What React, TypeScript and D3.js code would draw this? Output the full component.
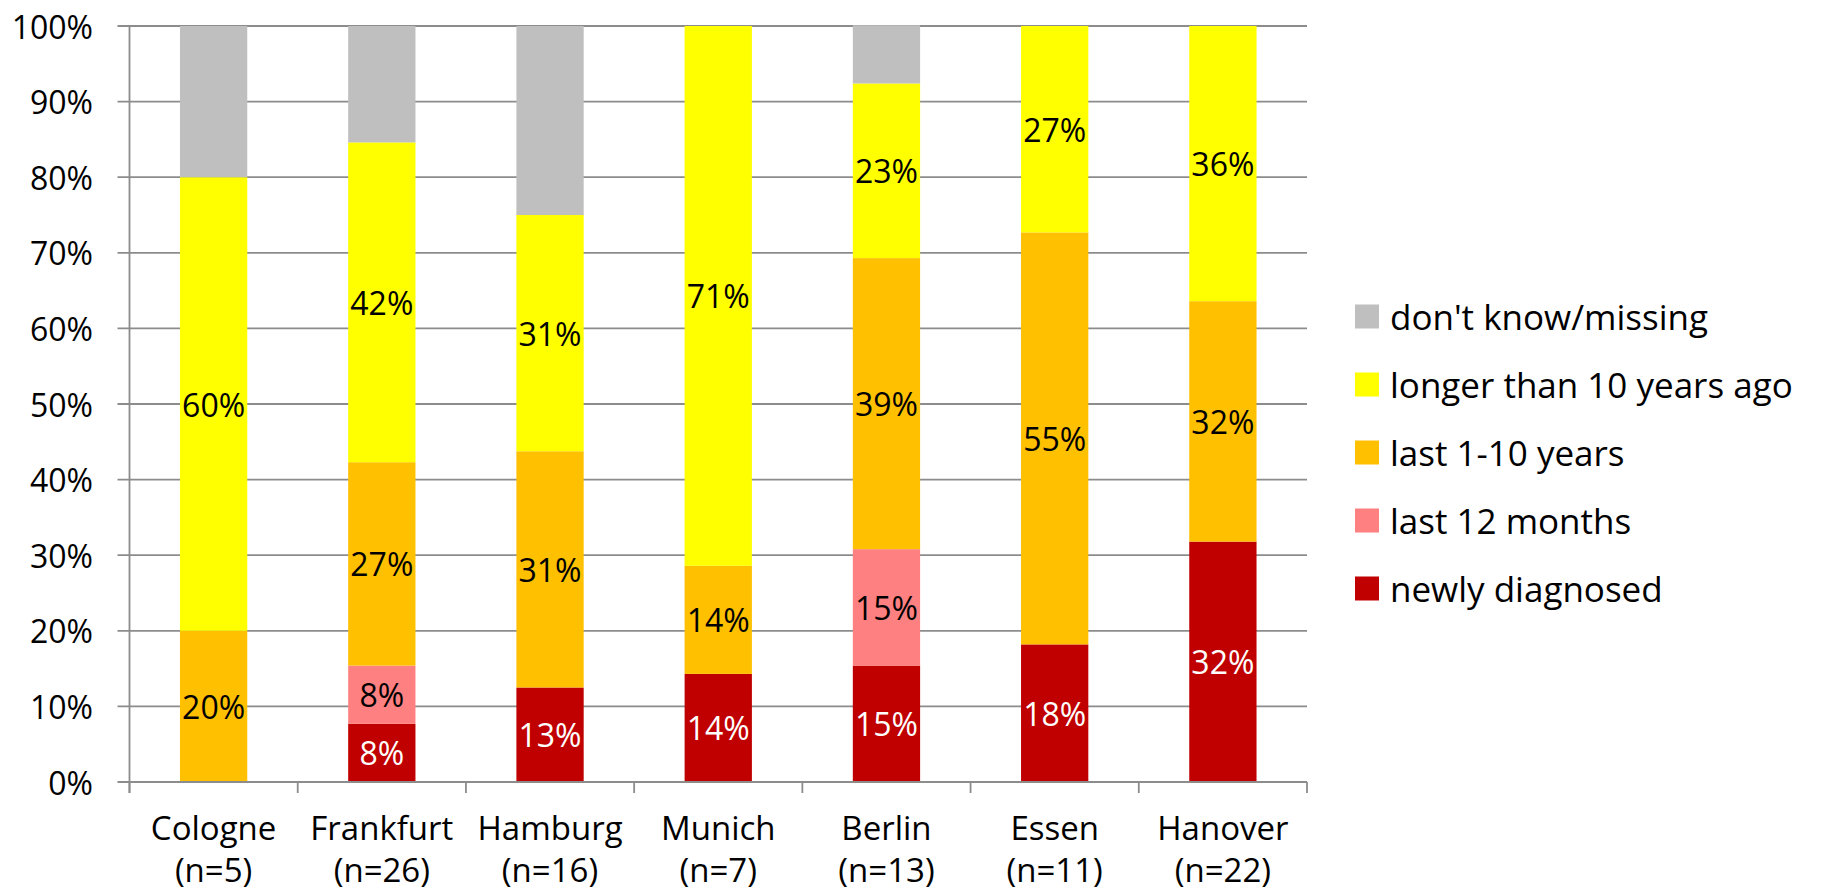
import React from "react";
import * as d3 from "d3";

// Cities (with sample size) along the x axis
const cities = ["Cologne", "Frankfurt", "Hamburg", "Munich", "Berlin", "Essen", "Hanover"];
const sampleSizes = [5, 26, 16, 7, 13, 11, 22];

// Time since diagnosis, percent of respondents per city (stacked bottom to top)
const newlyDiagnosed = [0, 7.7, 12.5, 14.3, 15.4, 18.2, 31.8];
const last12Months = [0, 7.7, 0, 0, 15.4, 0, 0];
const last1to10Years = [20, 26.9, 31.25, 14.3, 38.5, 54.5, 31.8];
const longerThan10 = [60, 42.3, 31.25, 71.4, 23.1, 27.3, 36.4];
const dontKnow = [20, 15.4, 25, 0, 7.7, 0, 0];

const yTicks = [0, 10, 20, 30, 40, 50, 60, 70, 80, 90, 100];

const seriesNames = [
  "newly diagnosed",
  "last 12 months",
  "last 1-10 years",
  "longer than 10 years ago",
  "don't know/missing",
];
const seriesValues = [newlyDiagnosed, last12Months, last1to10Years, longerThan10, dontKnow];
const seriesColors = ["#C00000", "#FF8080", "#FFC000", "#FFFF00", "#BFBFBF"];
const labelColors = ["#FFFFFF", "#000000", "#000000", "#000000", null];

const W = 1821;
const H = 893;
const plot = { left: 129.5, right: 1307, top: 26, bottom: 782 };
const FONT = "'Open Sans', 'Noto Sans', sans-serif";

export default function App() {
  const x = d3
    .scaleBand<string>()
    .domain(cities)
    .range([plot.left, plot.right])
    .paddingInner(0.6)
    .paddingOuter(0.3);
  const y = d3.scaleLinear().domain([0, 100]).range([plot.bottom, plot.top]);
  const step = x.step();

  const rows = cities.map((c, i) => {
    const r: Record<string, number | string> = { city: c };
    seriesNames.forEach((s, k) => (r[s] = seriesValues[k][i]));
    return r;
  });
  const stacked = d3.stack<Record<string, number | string>>().keys(seriesNames)(rows as any);

  const gridColor = "#8c8c8c";
  const legendX = 1355;
  const legendY0 = 316.5;
  const legendGap = 68;
  const legendOrder = [4, 3, 2, 1, 0];

  return (
    <svg width={W} height={H} style={{ position: "absolute", left: 0, top: 0, background: "#fff" }}>
      <rect x={0} y={0} width={W} height={H} fill="#fff" />
      {/* horizontal gridlines and y ticks */}
      {yTicks.map((t) => (
        <g key={t}>
          <line x1={plot.left - 12} x2={plot.right} y1={y(t)} y2={y(t)} stroke={gridColor} strokeWidth={1.8} />
          <text
            x={93}
            y={y(t)}
            textAnchor="end"
            dominantBaseline="central"
            fontFamily={FONT}
            fontSize={32}
            fill="#000"
          >
            {t}%
          </text>
        </g>
      ))}
      {/* stacked bars */}
      {stacked.map((layer, k) =>
        layer.map((d, i) => {
          const v = seriesValues[k][i];
          if (!v) return null;
          const x0 = x(cities[i])!;
          const yTop = y(d[1]);
          const yBot = y(d[0]);
          const lc = labelColors[k];
          return (
            <g key={`${k}-${i}`}>
              <rect x={x0} y={yTop} width={x.bandwidth()} height={yBot - yTop} fill={seriesColors[k]} />
              {lc && (
                <text
                  x={x0 + x.bandwidth() / 2}
                  y={(yTop + yBot) / 2}
                  textAnchor="middle"
                  dominantBaseline="central"
                  fontFamily={FONT}
                  fontSize={32}
                  fill={lc}
                >
                  {Math.round(v)}%
                </text>
              )}
            </g>
          );
        })
      )}
      {/* axes */}
      <line x1={plot.left} x2={plot.left} y1={plot.top} y2={plot.bottom + 11} stroke={gridColor} strokeWidth={1.8} />
      <line x1={plot.left} x2={plot.right} y1={plot.bottom} y2={plot.bottom} stroke={gridColor} strokeWidth={1.8} />
      {d3.range(cities.length + 1).map((j) => {
        const xx = plot.left + j * step;
        return <line key={j} x1={xx} x2={xx} y1={plot.bottom} y2={plot.bottom + 11} stroke={gridColor} strokeWidth={1.8} />;
      })}
      {/* category labels */}
      {cities.map((c, i) => {
        const cx = x(c)! + x.bandwidth() / 2;
        return (
          <text key={c} textAnchor="middle" fontFamily={FONT} fontSize={33} fill="#000">
            <tspan x={cx} y={840}>
              {c}
            </tspan>
            <tspan x={cx} y={882}>
              (n={sampleSizes[i]})
            </tspan>
          </text>
        );
      })}
      {/* legend */}
      {legendOrder.map((k, r) => {
        const cy = legendY0 + r * legendGap;
        return (
          <g key={k}>
            <rect x={legendX} y={cy - 12} width={24} height={24} fill={seriesColors[k]} />
            <text x={1390} y={cy} dominantBaseline="central" fontFamily={FONT} fontSize={35} fill="#000">
              {seriesNames[k]}
            </text>
          </g>
        );
      })}
    </svg>
  );
}
